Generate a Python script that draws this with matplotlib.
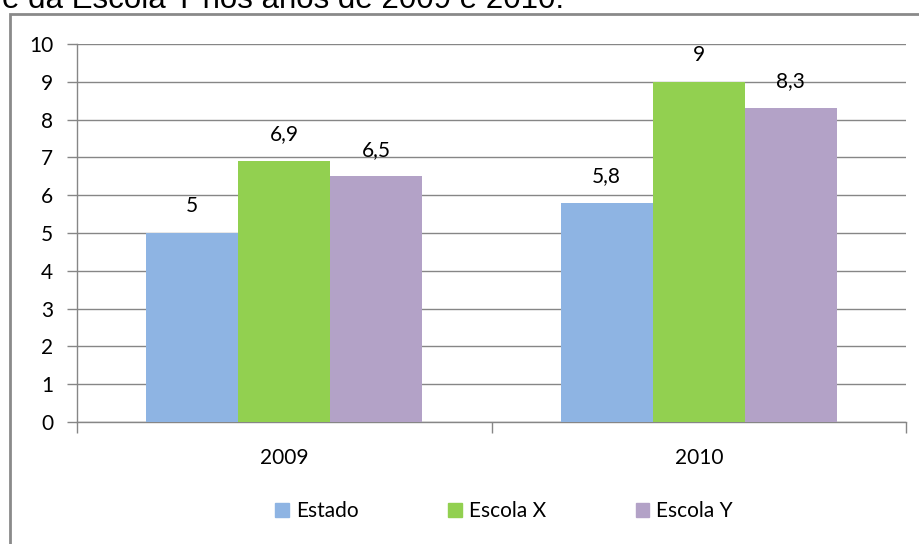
import matplotlib
matplotlib.use("Agg")
import matplotlib.pyplot as plt
from matplotlib.patches import Rectangle
import numpy as np

categories = ["2009", "2010"]
series_names = ["Estado", "Escola X", "Escola Y"]
estado = [5, 5.8]
escola_x = [6.9, 9]
escola_y = [6.5, 8.3]
value_labels = [["5", "5,8"], ["6,9", "9"], ["6,5", "8,3"]]
colors = ["#8EB4E3", "#92D050", "#B3A2C7"]
yticks = [0, 1, 2, 3, 4, 5, 6, 7, 8, 9, 10]

plt.rcParams['font.family'] = ['Lato', 'DejaVu Sans']

W, H = 919, 544
fig = plt.figure(figsize=(W / 100, H / 100), dpi=100)
fig.patch.set_facecolor("white")

# outer chart frame
fig.patches.append(Rectangle((9.5 / W, -0.05), 1.2, 1 - 13.5 / H + 0.05, transform=fig.transFigure,
                             fill=False, edgecolor="#8a8a8a", linewidth=2.0, zorder=0))

# cropped title
fig.text(2 / W, 1 - 8 / H, "e da Escola Y nos anos de 2009 e 2010.", fontsize=22.5,
         family="Liberation Sans", va="baseline", ha="left", color="black")

ax = fig.add_axes([77 / W, 1 - 422 / H, (906 - 77) / W, (422 - 44) / H])
ax.set_facecolor("white")
x = np.arange(len(categories))
bw = 0.222
all_series = [estado, escola_x, escola_y]
for i, (vals, c) in enumerate(zip(all_series, colors)):
    ax.bar(x + (i - 1) * bw, vals, width=bw, color=c, zorder=3, label=series_names[i])
    for xi, v, lab in zip(x + (i - 1) * bw, vals, value_labels[i]):
        ax.annotate(lab, (xi, v), xytext=(0, 12), textcoords="offset points",
                    ha="center", va="bottom", fontsize=15, color="black")

ax.set_xlim(-0.5, 1.5)
ax.set_ylim(0, 10)
ax.set_yticks(yticks)
ax.set_yticklabels([str(t) for t in yticks], fontsize=15)
ax.yaxis.grid(True, color="#868686", linewidth=1.0, zorder=1)
ax.tick_params(axis="y", length=7, color="#868686", width=1.0, pad=10)
ax.set_xticks(x)
ax.set_xticklabels(categories, fontsize=15)
ax.set_xticks([-0.5, 0.5, 1.5], minor=True)
ax.tick_params(axis="x", which="major", length=0, pad=19)
ax.tick_params(axis="x", which="minor", length=8, color="#868686", width=1.0)
for s in ["top", "right"]:
    ax.spines[s].set_visible(False)
for s in ["left", "bottom"]:
    ax.spines[s].set_color("#868686")
    ax.spines[s].set_linewidth(1.0)

handles = [Rectangle((0, 0), 1, 1, color=c) for c in colors]
fig.legend(handles, series_names, loc="center", bbox_to_anchor=(504 / W, 1 - 511 / H),
           ncol=3, frameon=False, fontsize=15, handlelength=0.65, handleheight=0.65,
           handletextpad=0.35, columnspacing=4.3)

fig.savefig("out.png", dpi=100, facecolor="white")
